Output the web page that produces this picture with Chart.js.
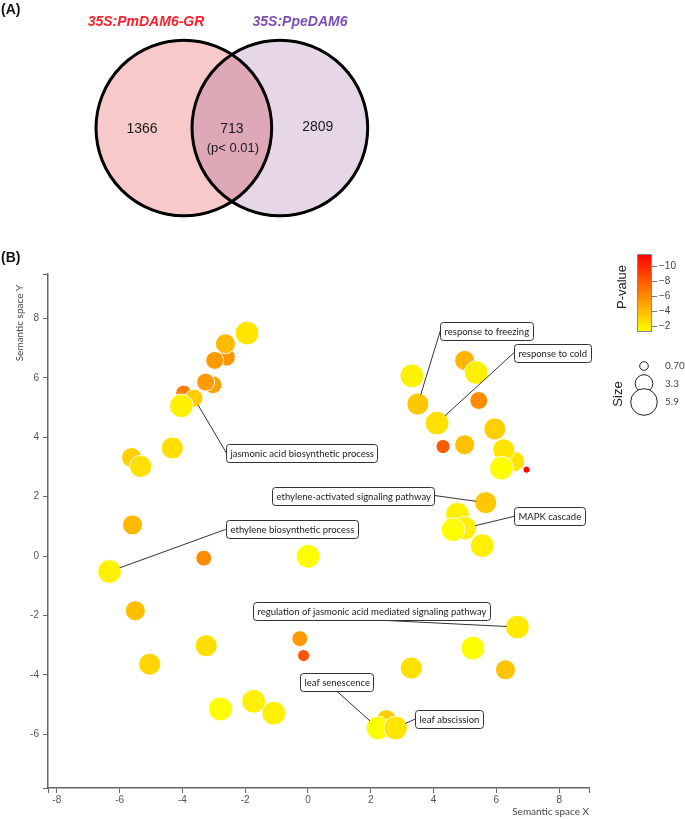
<!DOCTYPE html>
<html>
<head>
<meta charset="utf-8">
<script src="https://cdn.jsdelivr.net/npm/chart.js@4.4.1/dist/chart.umd.min.js"></script>
<style>
  html, body { margin: 0; padding: 0; background: #fff; }
  #wrap { position: relative; width: 685px; height: 819px; }
  #venn { position: absolute; left: 0; top: 0; }
  #bub { position: absolute; left: 0; top: 245px; }
</style>
</head>
<body>
<div id="wrap">
  <canvas id="venn" width="685" height="245"></canvas>
  <canvas id="bub" width="685" height="574"></canvas>
</div>
<script>
// ---------- Panel A data ----------
const vennSetNames = ['35S:PmDAM6-GR', '35S:PpeDAM6'];
const vennSetColors = ['#ff1f2a', '#7d4fb4'];
const vennFills = ['#f7c9c9', '#e7d5e8'];
const vennCounts = [1366, 713, 2809];   // left only, shared, right only
const vennNote = '(p< 0.01)';

// ---------- Panel B data (REVIGO semantic space) ----------
const termX = [-1.94,-2.60,-2.97,-2.63,-3.03,-3.26,-3.96,-3.63,-4.03,-4.32,
  -5.62,-5.33,-5.59,-6.32,-3.32,0.00,-5.50,-3.24,-5.04,-0.26,
  -0.14,-2.79,-1.73,-1.09,6.67,5.25,3.29,6.29,2.50,2.23,
  2.79,3.31,3.50,4.11,4.99,5.36,5.44,4.30,4.99,5.95,
  6.58,6.23,6.16,6.96,5.66,4.76,4.99,4.62,5.55];
const termY = [7.51,6.70,6.59,7.15,5.77,5.86,5.49,5.32,5.06,3.64,
  3.32,3.02,1.05,-0.52,-0.07,-0.01,-1.84,-3.02,-3.64,-2.78,
  -3.35,-5.15,-4.89,-5.29,-2.39,-3.10,-3.77,-3.83,-5.51,-5.79,
  -5.79,6.07,5.12,4.48,6.59,6.18,5.24,3.69,3.75,4.28,
  3.19,3.58,2.96,2.91,1.80,1.41,0.94,0.89,0.35];
const termSize = [5.1,3.4,3.4,4.0,3.4,3.4,2.8,3.4,5.1,4.6,
  4.0,4.6,4.0,5.1,2.8,5.1,4.0,4.6,4.6,2.8,
  1.7,5.1,5.1,5.1,5.1,5.1,4.6,4.0,4.0,5.1,
  5.1,5.1,4.6,5.1,4.0,5.1,3.4,2.3,4.0,4.6,
  4.0,4.6,5.1,0.25,4.6,5.1,5.1,5.1,5.1];
const termLogP = [-2.3,-5.5,-5.3,-4.0,-5.0,-5.3,-6.4,-3.3,-1.9,-2.6,
  -3.15,-2.5,-4.1,-1.8,-5.9,-1.3,-3.9,-2.6,-2.9,-5.35,
  -8.1,-1.3,-1.9,-1.9,-2.1,-1.3,-2.5,-3.6,-3.3,-1.3,
  -2.3,-1.8,-3.5,-2.5,-4.3,-1.9,-5.9,-7.9,-3.8,-3.15,
  -2.3,-2.3,-1.3,-11.5,-3.5,-1.9,-1.9,-1.3,-1.9];

const labelText = ['response to freezing','response to cold','jasmonic acid biosynthetic process',
  'ethylene-activated signaling pathway','ethylene biosynthetic process','MAPK cascade',
  'regulation of jasmonic acid mediated signaling pathway','leaf senescence','leaf abscission'];
const labelTarget = [32,33,7,44,13,46,24,29,30];
const labelX = [5.69,7.78,-0.19,1.45,-0.52,7.70,2.02,0.92,4.49];
const labelY = [7.59,6.85,3.48,2.04,0.90,1.34,-1.84,-4.25,-5.49];
const labelSide = ['left','left','left','right','left','left','bottom','bottom','left'];

const xTickValues = [-8,-6,-4,-2,0,2,4,6,8];
const yTickValues = [-6,-4,-2,0,2,4,6,8];
const pLegendTicks = [-10,-8,-6,-4,-2];
const sizeLegendValues = [0.70, 3.3, 5.9];
const sizeLegendLabels = ['0.70','3.3','5.9'];

// ---------- helpers ----------
const P_TOP = -11.6, P_BOTTOM = -1.24;
function pColor(v) {
  let t = (v - P_BOTTOM) / (P_TOP - P_BOTTOM);
  t = Math.max(0, Math.min(1, t));
  return 'rgb(255,' + Math.round(255 * (1 - t)) + ',0)';
}
function sizeRadius(s) { return 4.3 + 1.73 * (s - 0.7); }

// ---------- Panel A chart ----------
const VX_MIN = -4.83, VX_MAX = 9.44, VY_MIN = -2.44, VY_MAX = 2.67;
const VR = 1.83; // circle radius in venn units
const vennRpx = VR * 685 / (VX_MAX - VX_MIN);
const vennPlugin = {
  id: 'vennDecor',
  beforeDatasetsDraw(chart) { chart.ctx.save(); chart.ctx.globalCompositeOperation = 'multiply'; },
  afterDatasetsDraw(chart) {
    const ctx = chart.ctx; ctx.restore();
    const xs = chart.scales.x, ys = chart.scales.y;
    ctx.save();
    ctx.fillStyle = '#111';
    ctx.font = 'bold 14px "Liberation Sans", Arial, sans-serif';
    ctx.textAlign = 'left'; ctx.textBaseline = 'middle';
    ctx.fillText('(A)', 1, 10);
    ctx.font = 'italic bold 14px "Liberation Sans", Arial, sans-serif';
    ctx.textAlign = 'center';
    ctx.fillStyle = vennSetColors[0];
    ctx.fillText(vennSetNames[0], 146, 22);
    ctx.fillStyle = vennSetColors[1];
    ctx.fillText(vennSetNames[1], 300, 22);
    ctx.fillStyle = '#1a1a1a';
    ctx.font = '14px "Liberation Sans", Arial, sans-serif';
    const cy = ys.getPixelForValue(0);
    ctx.fillText(String(vennCounts[0]), xs.getPixelForValue(-VR) - 2, cy + 1);
    ctx.fillText(String(vennCounts[1]), xs.getPixelForValue(0), cy + 1);
    ctx.fillText(String(vennCounts[2]), xs.getPixelForValue(VR) - 2, cy - 1);
    ctx.font = '13px "Liberation Sans", Arial, sans-serif';
    ctx.fillText(vennNote, xs.getPixelForValue(0) + 1, cy + 20);
    ctx.restore();
  }
};
new Chart(document.getElementById('venn'), {
  type: 'bubble',
  data: { datasets: [{
    data: [{x: -1, y: 0, r: vennRpx}, {x: 1, y: 0, r: vennRpx}],
    backgroundColor: vennFills,
    borderColor: '#000',
    borderWidth: 3,
    hoverRadius: 0,
    clip: false
  }]},
  options: {
    responsive: false, animation: false, devicePixelRatio: 1,
    layout: { padding: 0, autoPadding: false },
    plugins: { legend: { display: false }, tooltip: { enabled: false } },
    events: [],
    scales: {
      x: { display: false, min: VX_MIN, max: VX_MAX },
      y: { display: false, min: VY_MIN, max: VY_MAX }
    }
  },
  plugins: [vennPlugin]
});

// ---------- Panel B chart ----------
const labelFont = '9.5px Lato, "Open Sans", sans-serif';
const bubbleDecor = {
  id: 'bubbleDecor',
  afterDatasetsDraw(chart) {
    const ctx = chart.ctx;
    const xs = chart.scales.x, ys = chart.scales.y;
    ctx.save();
    ctx.font = labelFont;
    for (let i = 0; i < labelText.length; i++) {
      const tw = ctx.measureText(labelText[i]).width;
      const w = tw + 8, h = 18;
      const cx = xs.getPixelForValue(labelX[i]), cy = ys.getPixelForValue(labelY[i]);
      const left = cx - w / 2, top = cy - h / 2;
      const t = labelTarget[i];
      const bx = xs.getPixelForValue(termX[t]), by = ys.getPixelForValue(termY[t]);
      const br = sizeRadius(termSize[t]);
      let ax, ay;
      if (labelSide[i] === 'left') { ax = left; ay = cy; }
      else if (labelSide[i] === 'right') { ax = left + w; ay = cy; }
      else { ax = cx; ay = top + h; }
      const dx = bx - ax, dy = by - ay, d = Math.hypot(dx, dy);
      const ex = bx - dx / d * br * 0.9, ey = by - dy / d * br * 0.9;
      ctx.strokeStyle = '#333'; ctx.lineWidth = 1;
      ctx.beginPath(); ctx.moveTo(ax, ay); ctx.lineTo(ex, ey); ctx.stroke();
      ctx.beginPath();
      ctx.roundRect(Math.round(left) + 0.5, Math.round(top) + 0.5, Math.round(w), h, 3);
      ctx.fillStyle = '#fff'; ctx.fill();
      ctx.strokeStyle = '#333'; ctx.lineWidth = 1; ctx.stroke();
      ctx.fillStyle = '#1a1a1a'; ctx.textAlign = 'left'; ctx.textBaseline = 'middle';
      ctx.fillText(labelText[i], Math.round(left) + 4.5, Math.round(top) + 0.5 + h / 2 + 0.5);
    }
    ctx.restore();
  },
  afterDraw(chart) {
    const ctx = chart.ctx;
    ctx.save();
    // panel letter
    ctx.fillStyle = '#111';
    ctx.font = 'bold 14px "Liberation Sans", Arial, sans-serif';
    ctx.textAlign = 'left'; ctx.textBaseline = 'middle';
    ctx.fillText('(B)', 1, 13);
    // axis titles
    ctx.fillStyle = '#444';
    ctx.font = '10px Lato, "Open Sans", sans-serif';
    ctx.textAlign = 'right';
    ctx.fillText('Semantic space X', 589, 567);
    ctx.save();
    ctx.translate(20, 78); ctx.rotate(-Math.PI / 2);
    ctx.textAlign = 'center';
    ctx.fillText('Semantic space Y', 0, 0);
    ctx.restore();
    // colour legend
    const bx0 = 637, bx1 = 652, by0 = 9, by1 = 87;
    const g = ctx.createLinearGradient(0, by0, 0, by1);
    g.addColorStop(0, pColor(P_TOP)); g.addColorStop(0.5, pColor((P_TOP + P_BOTTOM) / 2)); g.addColorStop(1, pColor(P_BOTTOM));
    ctx.fillStyle = g; ctx.fillRect(bx0, by0, bx1 - bx0, by1 - by0);
    ctx.strokeStyle = '#888'; ctx.lineWidth = 1;
    ctx.strokeRect(bx0 + 0.5, by0 + 0.5, bx1 - bx0 - 1, by1 - by0 - 1);
    ctx.fillStyle = '#444'; ctx.font = '10px "Liberation Sans", Arial, sans-serif';
    ctx.textAlign = 'left'; ctx.textBaseline = 'middle';
    ctx.strokeStyle = '#777';
    for (const v of pLegendTicks) {
      const y = by0 + (v - P_TOP) / (P_BOTTOM - P_TOP) * (by1 - by0);
      ctx.beginPath(); ctx.moveTo(bx1, Math.round(y) + 0.5); ctx.lineTo(bx1 + 5, Math.round(y) + 0.5); ctx.stroke();
      ctx.fillText('\u2212' + Math.abs(v), bx1 + 7, y);
    }
    ctx.fillStyle = '#222'; ctx.font = '13px "Liberation Sans", Arial, sans-serif';
    ctx.save(); ctx.translate(622, 42); ctx.rotate(-Math.PI / 2); ctx.textAlign = 'center';
    ctx.fillText('P-value', 0, 0); ctx.restore();
    ctx.save(); ctx.translate(618, 149); ctx.rotate(-Math.PI / 2); ctx.textAlign = 'center';
    ctx.fillText('Size', 0, 0); ctx.restore();
    // size legend
    const sy = [121, 138.5, 157];
    for (let i = 0; i < sizeLegendValues.length; i++) {
      ctx.beginPath(); ctx.arc(644, sy[i], sizeRadius(sizeLegendValues[i]), 0, Math.PI * 2);
      ctx.fillStyle = '#fff'; ctx.fill();
      ctx.strokeStyle = '#222'; ctx.lineWidth = 1; ctx.stroke();
    }
    ctx.fillStyle = '#444'; ctx.font = '10px Lato, "Open Sans", sans-serif';
    for (let i = 0; i < sizeLegendLabels.length; i++) ctx.fillText(sizeLegendLabels[i], 665, sy[i]);
    ctx.restore();
  }
};

const pts = termX.map((x, i) => ({x: x, y: termY[i], r: sizeRadius(termSize[i])}));
const axisCommon = {
  type: 'linear',
  grid: { display: true, drawOnChartArea: false, drawTicks: true, tickLength: 5, color: '#666', lineWidth: 1 },
  border: { display: true, color: '#666', width: 1.5 },
};
new Chart(document.getElementById('bub'), {
  type: 'bubble',
  data: { datasets: [{
    data: pts,
    backgroundColor: termLogP.map(pColor),
    borderColor: 'rgba(255,255,255,0.95)',
    borderWidth: 1,
    hoverRadius: 0
  }]},
  options: {
    responsive: false, animation: false, devicePixelRatio: 1,
    layout: { padding: { top: 29, right: 96, left: 0, bottom: 0 }, autoPadding: false },
    plugins: { legend: { display: false }, tooltip: { enabled: false } },
    events: [],
    scales: {
      x: Object.assign({}, axisCommon, {
        min: -8.28, max: 8.95,
        afterBuildTicks: (s) => { s.ticks = [s.min].concat(xTickValues, [s.max]).map(v => ({value: v})); },
        afterFit: (s) => { s.height = 31; },
        ticks: { autoSkip: false, maxRotation: 0, padding: 1, color: '#555',
          font: { family: '"Liberation Sans", Arial, sans-serif', size: 10 },
          callback: (v) => xTickValues.includes(v) ? String(v) : '' }
      }),
      y: Object.assign({}, axisCommon, {
        min: -7.81, max: 9.5,
        afterBuildTicks: (s) => { s.ticks = [s.min].concat(yTickValues, [s.max]).map(v => ({value: v})); },
        afterFit: (s) => { s.width = 48; },
        ticks: { autoSkip: false, padding: 4, color: '#555',
          font: { family: '"Liberation Sans", Arial, sans-serif', size: 10 },
          callback: (v) => yTickValues.includes(v) ? String(v) : '' }
      })
    }
  },
  plugins: [bubbleDecor]
});
</script>
</body>
</html>
